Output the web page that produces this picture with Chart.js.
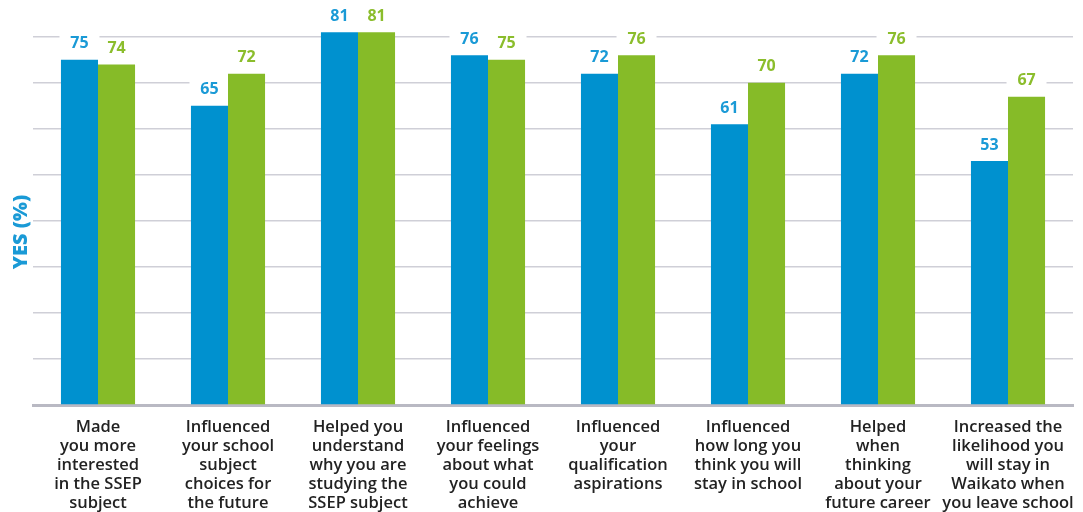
<!DOCTYPE html>
<html>
<head>
<meta charset="utf-8">
<script src="https://cdn.jsdelivr.net/npm/chart.js@4"></script>
<style>
  html, body { margin: 0; padding: 0; background: #fff; }
  #wrap { width: 1083px; height: 512px; }
</style>
</head>
<body>
<div id="wrap"><canvas id="chart" width="1083" height="512"></canvas></div>
<script>
const categories = [
  ['Made', 'you more', 'interested', 'in the SSEP', 'subject'],
  ['Influenced', 'your school', 'subject', 'choices for', 'the future'],
  ['Helped you', 'understand', 'why you are', 'studying the', 'SSEP subject'],
  ['Influenced', 'your feelings', 'about what', 'you could', 'achieve'],
  ['Influenced', 'your', 'qualification', 'aspirations'],
  ['Influenced', 'how long you', 'think you will', 'stay in school'],
  ['Helped', 'when', 'thinking', 'about your', 'future career'],
  ['Increased the', 'likelihood you', 'will stay in', 'Waikato when', 'you leave school']
];
const seriesA = [75, 65, 81, 76, 72, 61, 72, 53];
const seriesB = [74, 72, 81, 75, 76, 70, 76, 67];
const yTitle = 'YES (%)';

const blue = '#0091cf';
const green = '#86bb28';
const blueText = '#1a9ad6';
const greenText = '#8bbd2c';
const font = '"Open Sans", sans-serif';

// value labels: white box behind the bars (hides the gridline), text on top
const valueLabels = {
  id: 'valueLabels',
  beforeDatasetsDraw(chart) {
    const ctx = chart.ctx;
    ctx.save();
    ctx.fillStyle = '#fff';
    chart.data.datasets.forEach((ds, i) => {
      chart.getDatasetMeta(i).data.forEach(bar => {
        ctx.fillRect(bar.x - 20, bar.y - 26, 40, 20);
      });
    });
    ctx.restore();
  },
  afterDatasetsDraw(chart) {
    const ctx = chart.ctx;
    ctx.save();
    ctx.font = `700 16px ${font}`;
    ctx.textAlign = 'center';
    ctx.textBaseline = 'middle';
    chart.data.datasets.forEach((ds, i) => {
      chart.getDatasetMeta(i).data.forEach((bar, j) => {
        ctx.fillStyle = i === 0 ? blueText : greenText;
        ctx.fillText(String(ds.data[j]), bar.x, bar.y - 16);
      });
    });
    ctx.restore();
  }
};

// rotated axis title, placed a bit below the middle like the original
const sideTitle = {
  id: 'sideTitle',
  afterDraw(chart) {
    const ctx = chart.ctx;
    ctx.save();
    ctx.translate(21, 232);
    ctx.rotate(-Math.PI / 2);
    ctx.font = `800 20px ${font}`;
    ctx.fillStyle = blueText;
    ctx.textAlign = 'center';
    ctx.textBaseline = 'middle';
    ctx.fillText(yTitle, 0, 0);
    ctx.restore();
  }
};

new Chart(document.getElementById('chart'), {
  type: 'bar',
  data: {
    labels: categories,
    datasets: [
      { label: 'Group 1', data: seriesA, backgroundColor: blue, barPercentage: 1, categoryPercentage: 0.57 },
      { label: 'Group 2', data: seriesB, backgroundColor: green, barPercentage: 1, categoryPercentage: 0.57 }
    ]
  },
  options: {
    responsive: false,
    animation: false,
    layout: { padding: { top: 0, right: 10, bottom: 0, left: 0 } },
    plugins: {
      legend: { display: false },
      tooltip: { enabled: false }
    },
    scales: {
      x: {
        grid: { display: false },
        border: { color: '#b9b9c3', width: 3 },
        afterFit: s => { s.height = 107; },
        ticks: {
          color: '#222',
          padding: 5,
          maxRotation: 0,
          autoSkip: false,
          font: { family: font, size: 16.5, weight: '600', lineHeight: 1.15 }
        }
      },
      y: {
        min: 0,
        max: 88,
        afterFit: s => { s.width = 33; },
        ticks: { display: false, stepSize: 10 },
        border: { display: false },
        grid: {
          color: c => (c.tick.value > 0 && c.tick.value % 10 === 0) ? '#cfcfd7' : 'rgba(0,0,0,0)',
          lineWidth: 1.5,
          drawTicks: false
        }
      }
    }
  },
  plugins: [valueLabels, sideTitle]
});
</script>
</body>
</html>
